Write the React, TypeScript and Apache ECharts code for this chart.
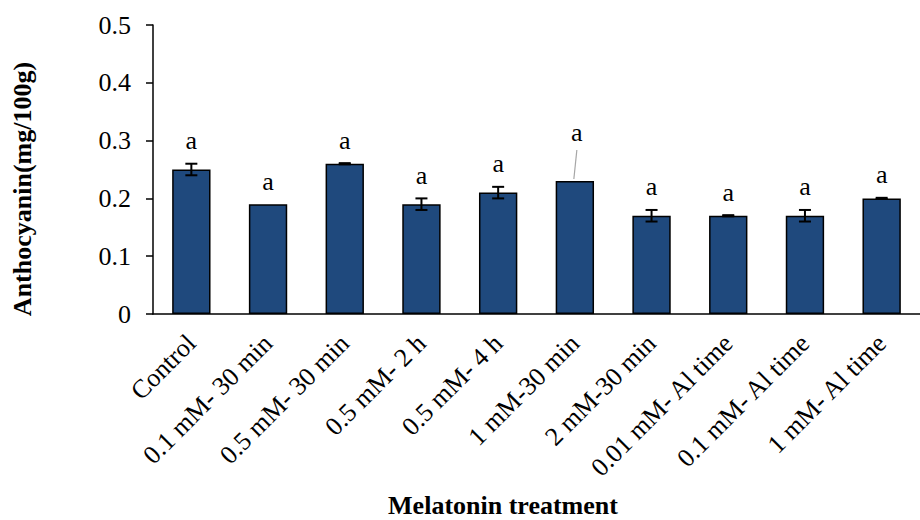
import React, { useEffect, useRef } from "react";
import * as echarts from "echarts";

const categories = [
  "Control",
  "0.1 mM- 30 min",
  "0.5 mM- 30 min",
  "0.5 mM- 2 h",
  "0.5 mM- 4 h",
  "1 mM-30 min",
  "2 mM-30 min",
  "0.01 mM- Al time",
  "0.1 mM- Al time",
  "1 mM- Al time",
];
const values = [0.25, 0.19, 0.26, 0.19, 0.21, 0.23, 0.17, 0.17, 0.17, 0.2];
const errors = [0.01, 0, 0.001, 0.01, 0.01, 0, 0.01, 0.001, 0.01, 0.001];
const letters = ["a", "a", "a", "a", "a", "a", "a", "a", "a", "a"];
const liftedLabels = [5];

const FONT = '"Liberation Serif", "Times New Roman", serif';

export default function App() {
  const ref = useRef<HTMLDivElement>(null);
  useEffect(() => {
    document.body.style.margin = "0";
    if (!ref.current) return;
    const chart = echarts.init(ref.current, undefined, { renderer: "svg" });
    chart.setOption({
      animation: false,
      backgroundColor: "#fff",
      grid: { left: 153, top: 25, right: -10, bottom: 206, containLabel: false },
      xAxis: {
        type: "category",
        data: categories,
        axisLine: { lineStyle: { color: "#000", width: 1.5 } },
        axisTick: { alignWithLabel: true, length: 6, lineStyle: { color: "#000", width: 1.5 } },
        axisLabel: {
          rotate: 45,
          interval: 0,
          margin: 25,
          fontSize: 26,
          fontFamily: FONT,
          color: "#000",
        },
        splitLine: { show: false },
      },
      yAxis: {
        type: "value",
        min: 0,
        max: 0.5,
        interval: 0.1,
        axisLine: { show: true, lineStyle: { color: "#000", width: 1.5 } },
        axisTick: { show: true, length: 7, lineStyle: { color: "#000", width: 1.5 } },
        axisLabel: {
          margin: 22,
          fontSize: 26,
          fontFamily: FONT,
          color: "#000",
          formatter: (v: number) => (v === 0 ? "0" : v.toFixed(1)),
        },
        splitLine: { show: false },
      },
      graphic: [
        {
          type: "text",
          x: 22,
          y: 189,
          rotation: Math.PI / 2,
          style: {
            text: "Anthocyanin(mg/100g)",
            font: `bold 26px ${FONT}`,
            fill: "#000",
            align: "center",
            verticalAlign: "middle",
          },
        },
        {
          type: "text",
          x: 503,
          y: 505,
          style: {
            text: "Melatonin treatment",
            font: `bold 26px ${FONT}`,
            fill: "#000",
            align: "center",
            verticalAlign: "middle",
          },
        },
      ],
      series: [
        {
          type: "bar",
          data: values,
          barWidth: "50%",
          itemStyle: { color: "#1F497D", borderColor: "#000", borderWidth: 1.5 },
          z: 2,
        },
        {
          type: "custom",
          z: 3,
          data: values.map((v, i) => [i, v, errors[i]]),
          renderItem: (params: any, api: any) => {
            const i = api.value(0);
            const v = api.value(1);
            const e = api.value(2);
            const top = api.coord([i, v + e]);
            const bot = api.coord([i, v - e]);
            const children: any[] = [];
            const ls = { stroke: "#000", lineWidth: 2 };
            if (e > 0) {
              children.push({ type: "line", shape: { x1: top[0], y1: top[1], x2: bot[0], y2: bot[1] }, style: ls });
              children.push({ type: "line", shape: { x1: top[0] - 6, y1: top[1], x2: top[0] + 6, y2: top[1] }, style: ls });
              children.push({ type: "line", shape: { x1: bot[0] - 6, y1: bot[1], x2: bot[0] + 6, y2: bot[1] }, style: ls });
            }
            const lifted = liftedLabels.indexOf(i) >= 0;
            const lx = top[0] + (lifted ? 2 : 0);
            const ly = top[1] - 10 - (lifted ? 26 : 0);
            children.push({
              type: "text",
              style: {
                text: letters[i],
                x: lx,
                y: ly,
                align: "center",
                verticalAlign: "bottom",
                font: `26px ${FONT}`,
                fill: "#000",
              },
            });
            if (lifted) {
              children.push({
                type: "line",
                shape: { x1: top[0] + 2, y1: top[1] - 31, x2: top[0] - 1, y2: top[1] - 2 },
                style: { stroke: "#A6A6A6", lineWidth: 1.2 },
              });
            }
            return { type: "group", children };
          },
        },
      ],
    });
    return () => chart.dispose();
  }, []);
  return <div ref={ref} style={{ width: 920, height: 520 }} />;
}
